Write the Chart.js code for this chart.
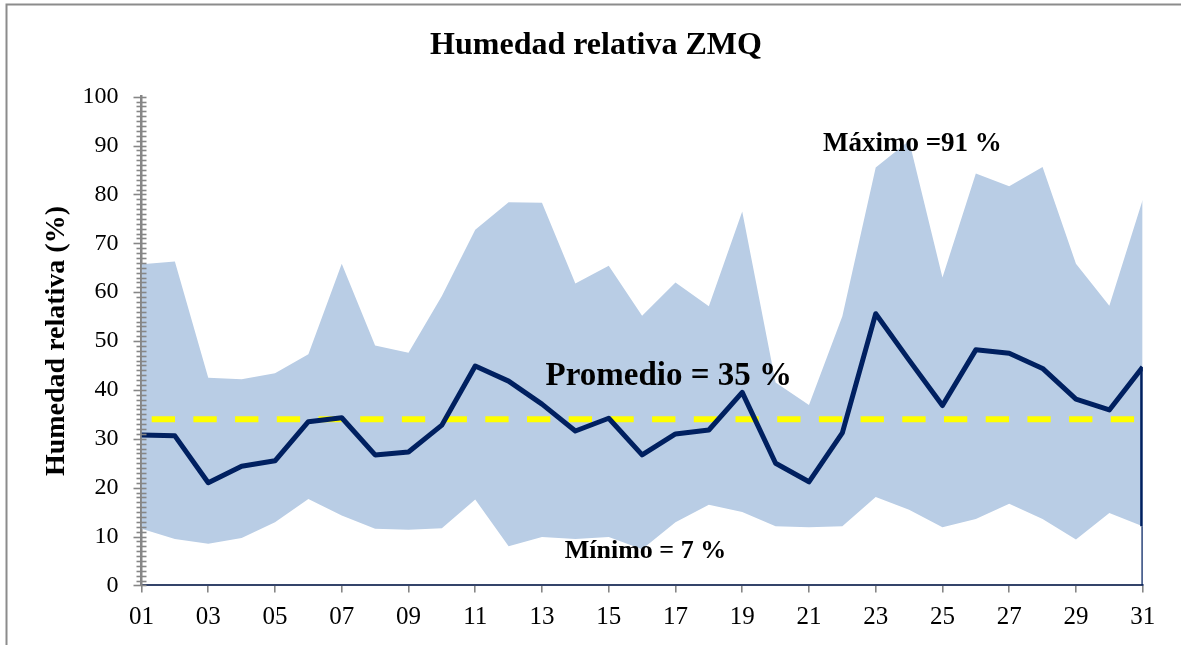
<!DOCTYPE html>
<html>
<head>
<meta charset="utf-8">
<script src="https://cdn.jsdelivr.net/npm/chart.js@4"></script>
<style>
  body { margin: 0; background: #fff; }
  canvas { display: block; }
</style>
</head>
<body>
<canvas id="cv1" width="1181" height="645"></canvas>
<script>
// daily values
const days = [1,2,3,4,5,6,7,8,9,10,11,12,13,14,15,16,17,18,19,20,21,22,23,24,25,26,27,28,29,30,31];
const maxVals = [65.7,66.3,42.5,42.2,43.4,47.3,65.8,49.1,47.6,59.2,72.8,78.4,78.3,61.8,65.4,55.2,62.0,57.1,76.5,41.5,36.9,55.1,85.5,91.0,63.0,84.3,81.7,85.6,65.8,57.2,78.9];
const minVals = [11.6,9.5,8.5,9.7,12.9,17.7,14.3,11.6,11.4,11.7,17.6,8.0,9.9,9.5,9.9,7.4,12.9,16.5,15.0,12.1,11.9,12.1,18.1,15.5,11.9,13.6,16.7,13.6,9.4,14.8,12.1];
const avgVals = [30.8,30.6,21.0,24.4,25.5,33.5,34.3,26.7,27.3,32.8,44.9,41.8,37.1,31.6,34.2,26.7,31.0,31.8,39.5,25.0,21.2,31.2,55.6,46.1,36.8,48.2,47.5,44.4,38.1,35.9,44.7];
const meanVal = 34;

const titleText = 'Humedad relativa ZMQ';
const notes = [
  { text: 'Máximo =91 %', x: 24.1, y: 90.3, size: 27 },
  { text: 'Promedio = 35 %', x: 16.8, y: 42.7, size: 33 },
  { text: 'Mínimo = 7 %', x: 16.1, y: 7.0, size: 26 }
];

const pts = (vals) => days.map((d, i) => ({ x: d, y: vals[i] }));
const last = days.length - 1;

Chart.defaults.color = '#000';
Chart.defaults.font.family = '"Liberation Serif", "Times New Roman", serif';

// outer frame + title
const framePlugin = {
  id: 'frame',
  beforeDraw(chart) {
    const c = chart.ctx;
    c.save();
    c.fillStyle = '#fff';
    c.fillRect(0, 0, chart.width, chart.height);
    c.strokeStyle = '#8c8c8c';
    c.lineWidth = 2;
    c.strokeRect(6.5, 4.5, 1400, 900);
    c.fillStyle = '#000';
    c.font = 'bold 32px "Liberation Serif", serif';
    c.textAlign = 'center';
    c.textBaseline = 'middle';
    c.fillText(titleText, 596, 46);
    c.restore();
  }
};

// minor + major ticks crossing the y axis, and the text notes
const extrasPlugin = {
  id: 'extras',
  afterDraw(chart) {
    const c = chart.ctx;
    const ys = chart.scales.y, xs = chart.scales.x;
    const ax = chart.chartArea.left;
    c.save();
    c.strokeStyle = '#868686';
    c.lineWidth = 1.6;
    for (let v = 0; v <= 100; v++) {
      const py = Math.round(ys.getPixelForValue(v)) + 0.5;
      const big = v % 10 === 0;
      c.beginPath();
      c.moveTo(ax - (big ? 8 : 5), py);
      c.lineTo(ax + 5, py);
      c.stroke();
    }
    c.fillStyle = '#000';
    c.textAlign = 'center';
    c.textBaseline = 'middle';
    notes.forEach(n => {
      c.font = 'bold ' + n.size + 'px "Liberation Serif", serif';
      c.fillText(n.text, xs.getPixelForValue(n.x), ys.getPixelForValue(n.y));
    });
    c.restore();
  }
};

const ctx = document.getElementById('cv1').getContext('2d');
const chart = new Chart(ctx, {
  type: 'line',
  data: {
    datasets: [
      { label: 'min', data: pts(minVals), borderWidth: 0, borderColor: 'rgba(0,0,0,0)', pointRadius: 0, fill: false, order: 5 },
      { label: 'max', data: pts(maxVals), borderWidth: 0, borderColor: 'rgba(0,0,0,0)', backgroundColor: '#b9cde5', pointRadius: 0, fill: '-1', order: 4 },
      { label: 'mean', data: [{ x: days[0], y: meanVal }, { x: days[last], y: meanVal }], borderColor: '#ffff00', borderWidth: 6, borderDash: [23.3, 18.4], borderDashOffset: 31.5, pointRadius: 0, fill: false, order: 3 },
      { label: 'avg', data: pts(avgVals), borderColor: '#002060', borderWidth: 5, borderJoinStyle: 'round', pointRadius: 0, fill: false, order: 1 },
      { label: 'edge', data: [{ x: days[last], y: avgVals[last] }, { x: days[last], y: minVals[last] }], borderColor: '#002060', borderWidth: 5, pointRadius: 0, fill: false, order: 2 },
      { label: 'edge2', data: [{ x: days[last], y: minVals[last] }, { x: days[last], y: 0 }], borderColor: '#002060', borderWidth: 2.5, pointRadius: 0, fill: false, order: 2 }
    ]
  },
  options: {
    responsive: false,
    animation: false,
    events: [],
    layout: { padding: { left: 0, right: 38.3, top: 96.7, bottom: 2.6 } },
    plugins: {
      legend: { display: false },
      tooltip: { enabled: false },
      title: { display: false }
    },
    scales: {
      x: {
        type: 'linear',
        min: 1,
        max: 31,
        grid: { drawOnChartArea: false, tickLength: 7, color: '#868686', lineWidth: 1.6 },
        border: { color: '#34446a', width: 2 },
        ticks: {
          stepSize: 2,
          padding: 10,
          font: { size: 25 },
          callback: (v) => String(v).padStart(2, '0')
        }
      },
      y: {
        min: 0,
        max: 100,
        afterFit: (s) => { s.width = 141.5; },
        grid: { display: false, drawTicks: false },
        border: { color: '#868686', width: 2.5 },
        ticks: { stepSize: 10, padding: 23, font: { size: 24 } },
        title: {
          display: true,
          text: 'Humedad relativa (%)',
          font: { size: 28, weight: 'bold' },
          padding: { top: 40, bottom: 0 }
        }
      }
    }
  },
  plugins: [framePlugin, extrasPlugin]
});
</script>
</body>
</html>
